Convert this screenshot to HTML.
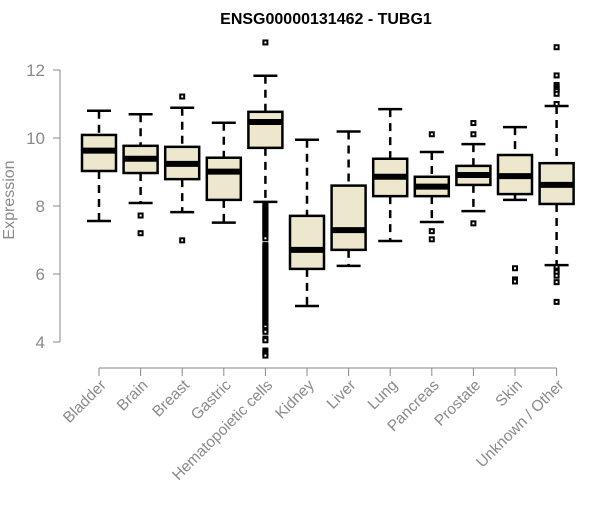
<!DOCTYPE html>
<html><head><meta charset="utf-8"><style>
html,body{margin:0;padding:0;background:#fff;}
svg text{font-family:"Liberation Sans",Arial,sans-serif;}
</style></head><body>
<svg id="chart" width="600" height="500" xmlns="http://www.w3.org/2000/svg">
<text x="326" y="24" text-anchor="middle" font-size="16" font-weight="bold" fill="#000">ENSG00000131462 - TUBG1</text>
<text transform="translate(14,200) rotate(-90)" text-anchor="middle" font-size="16" fill="#8a8a8a">Expression</text>
<g id="axes"></g>
<g id="boxes"></g>
</svg>
<script>
const categories=["Bladder","Brain","Breast","Gastric","Hematopoietic cells","Kidney","Liver","Lung","Pancreas","Prostate","Skin","Unknown / Other"];
const whiskerLow=[7.56,8.09,7.82,7.51,8.12,5.06,6.24,6.97,7.53,7.85,8.18,6.26];
const q1=[9.03,8.97,8.79,8.18,9.71,6.15,6.71,8.29,8.29,8.62,8.35,8.06];
const medians=[9.63,9.39,9.24,9.01,10.47,6.71,7.29,8.86,8.57,8.91,8.88,8.62];
const q3=[10.09,9.77,9.74,9.42,10.77,7.71,8.6,9.39,8.86,9.18,9.5,9.26];
const whiskerHigh=[10.8,10.7,10.89,10.45,11.83,9.95,10.19,10.85,9.59,9.82,10.32,10.94];
const outliers=[[],[7.72,7.2],[11.22,6.99],[],
[12.81,8.05,8.0,7.95,7.9,7.85,7.8,7.75,7.7,7.65,7.6,7.55,7.5,7.45,7.4,7.35,7.3,7.25,7.2,7.15,7.1,7.05,6.85,6.8,6.75,6.7,6.65,6.6,6.55,6.5,6.45,6.4,6.35,6.3,6.25,6.2,6.15,6.1,6.05,6.0,5.95,5.9,5.85,5.8,5.75,5.7,5.65,5.6,5.55,5.5,5.45,5.4,5.35,5.3,5.25,5.2,5.15,5.1,5.05,5.0,4.95,4.9,4.85,4.8,4.75,4.7,4.65,4.6,4.55,4.5,4.45,4.35,4.3,4.1,4.05,3.75,3.7,3.65,3.6],
[],[],[],[10.11,7.26,7.02],[10.44,10.11,7.49],[6.17,5.84,5.78],
[12.67,11.84,11.56,11.5,11.44,11.38,11.3,11.0,6.2,6.1,6.05,5.95,5.76,5.18]];
const yTicks=[4,6,8,10,12];
const NS="http://www.w3.org/2000/svg";
function yScale(v){return 70+(12-v)*34;}
function xScale(i){return 99+i*41.6;}
function mk(tag,attrs,parent){const e=document.createElementNS(NS,tag);for(const k in attrs)e.setAttribute(k,attrs[k]);parent.appendChild(e);return e;}
const axes=document.getElementById('axes');
const boxes=document.getElementById('boxes');
const yl=mk('line',{x1:60,x2:60,y1:yScale(12),y2:yScale(4),stroke:'#888','stroke-width':1},axes);


yTicks.forEach(t=>{
 const tl=mk('line',{x1:53,x2:60,y1:yScale(t),y2:yScale(t),stroke:'#888'},axes);
 
 
 const tx=mk('text',{x:45,y:yScale(t)+6,'text-anchor':'end','font-size':17,fill:'#8a8a8a'},axes);
 tx.textContent=t;
 
 
});
const xl=mk('line',{x1:xScale(0),x2:xScale(categories.length-1),y1:368,y2:368,stroke:'#888'},axes);


categories.forEach((c,i)=>{
 const x=xScale(i);
 const tl=mk('line',{x1:x,x2:x,y1:368,y2:376,stroke:'#888'},axes);
 
 
 const tx=mk('text',{x:0,y:0,'text-anchor':'end','font-size':15.5,fill:'#8a8a8a',transform:`translate(${x+8},${386}) rotate(-45)`},axes);
 tx.textContent=c;
 
 
 const g=mk('g',{},boxes);
 
 
 const w=34,cw=12;
 mk('line',{x1:x,x2:x,y1:yScale(whiskerHigh[i]),y2:yScale(q3[i]),stroke:'#000','stroke-width':2.5,'stroke-dasharray':'8,6'},g);
 mk('line',{x1:x,x2:x,y1:yScale(q1[i]),y2:yScale(whiskerLow[i]),stroke:'#000','stroke-width':2.5,'stroke-dasharray':'8,6'},g);
 mk('line',{x1:x-cw,x2:x+cw,y1:yScale(whiskerHigh[i]),y2:yScale(whiskerHigh[i]),stroke:'#000','stroke-width':2.5},g);
 mk('line',{x1:x-cw,x2:x+cw,y1:yScale(whiskerLow[i]),y2:yScale(whiskerLow[i]),stroke:'#000','stroke-width':2.5},g);
 mk('rect',{x:x-w/2,y:yScale(q3[i]),width:w,height:yScale(q1[i])-yScale(q3[i]),fill:'#ede7cd',stroke:'#000','stroke-width':2.5},g);
 mk('line',{x1:x-w/2,x2:x+w/2,y1:yScale(medians[i]),y2:yScale(medians[i]),stroke:'#000','stroke-width':6},g);
 outliers[i].forEach(v=>{
  const p=mk('rect',{x:x-2,y:yScale(v)-2,width:4,height:4,fill:'#fff',stroke:'#000','stroke-width':2},g);
  
  
 });
});
</script>
</body></html>
